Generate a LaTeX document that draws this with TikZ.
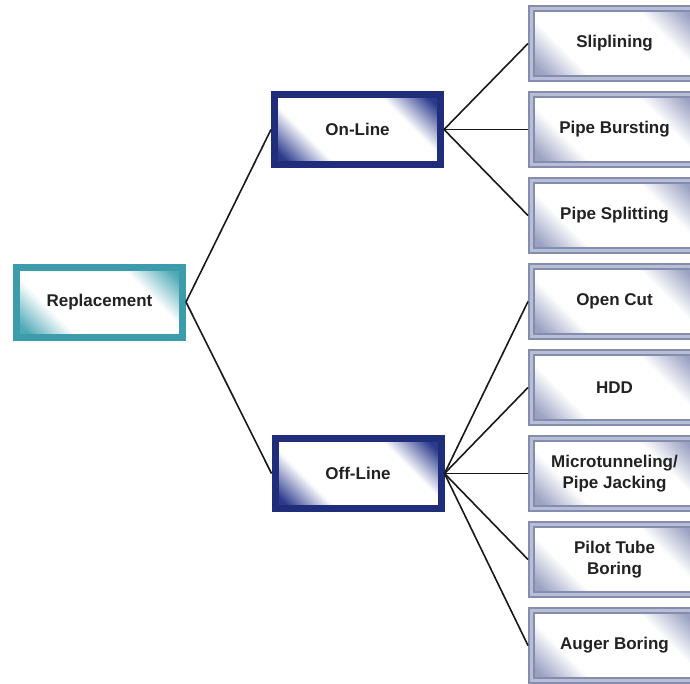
\documentclass[tikz,border=0pt]{standalone}
\usepackage{fontspec}
\setmainfont{Liberation Sans}
\definecolor{tealb}{HTML}{3D9CAB}
\definecolor{tealc}{HTML}{4FAAB7}
\definecolor{navyb}{HTML}{1F2D7B}
\definecolor{navyc}{HTML}{2B3A8C}
\definecolor{grayd}{HTML}{858DAF}
\definecolor{grayl}{HTML}{B8BED5}
\definecolor{grayc}{HTML}{9AA1C2}
\definecolor{txt}{HTML}{222222}
\pgfdeclareverticalshading{tealshade}{100bp}{color(0bp)=(tealc); color(19bp)=(tealc); color(33bp)=(white); color(67bp)=(white); color(81bp)=(tealc); color(100bp)=(tealc)}
\pgfdeclareverticalshading{navyshade}{100bp}{color(0bp)=(navyc); color(19bp)=(navyc); color(33bp)=(white); color(67bp)=(white); color(81bp)=(navyc); color(100bp)=(navyc)}
\pgfdeclareverticalshading{grayshade}{100bp}{color(0bp)=(grayc); color(19bp)=(grayc); color(33bp)=(white); color(67bp)=(white); color(81bp)=(grayc); color(100bp)=(grayc)}
\tikzset{
  box/.style={minimum width=166pt, minimum height=70pt, inner sep=0pt, outer sep=3.5pt,
    font=\bfseries\fontsize{17}{21}\selectfont, align=center, text=txt, shading angle=-45},
  rootbox/.style={box, draw=tealb, line width=7pt, shade, shading=tealshade},
  midbox/.style={box, draw=navyb, line width=7pt, shade, shading=navyshade},
  leafbox/.style={box, draw=grayd, line width=2pt, double=grayl, double distance=3pt, shade, shading=grayshade},
  conn/.style={draw=black!90, line width=1.6pt}
}
\begin{document}
\begin{tikzpicture}[x=1pt,y=-1pt]
\useasboundingbox (0,0) rectangle (690,683);
\clip (0,0) rectangle (690,683);
\fill[white] (0,0) rectangle (690,683);
\node[rootbox] (rep) at (99.5,302) {Replacement};
\node[midbox] (on) at (357.5,129.5) {On-Line};
\node[midbox] (off) at (358,473.5) {Off-Line};
\node[leafbox] (s1) at (614.5,43.5) {Sliplining};
\node[leafbox] (s2) at (614.5,129.5) {Pipe Bursting};
\node[leafbox] (s3) at (614.5,215.5) {Pipe Splitting};
\node[leafbox] (f1) at (614.5,301.5) {Open Cut};
\node[leafbox] (f2) at (614.5,387.5) {HDD};
\node[leafbox] (f3) at (614.5,473.5) {Microtunneling/\\Pipe Jacking};
\node[leafbox] (f4) at (614.5,559.5) {Pilot Tube\\Boring};
\node[leafbox] (f5) at (614.5,645.5) {Auger Boring};
\draw[conn] (rep.east) -- (on.west);
\draw[conn] (rep.east) -- (off.west);
\foreach \t in {s1,s2,s3} \draw[conn] (on.east) -- (\t.west);
\foreach \t in {f1,f2,f3,f4,f5} \draw[conn] (off.east) -- (\t.west);
\end{tikzpicture}
\end{document}
